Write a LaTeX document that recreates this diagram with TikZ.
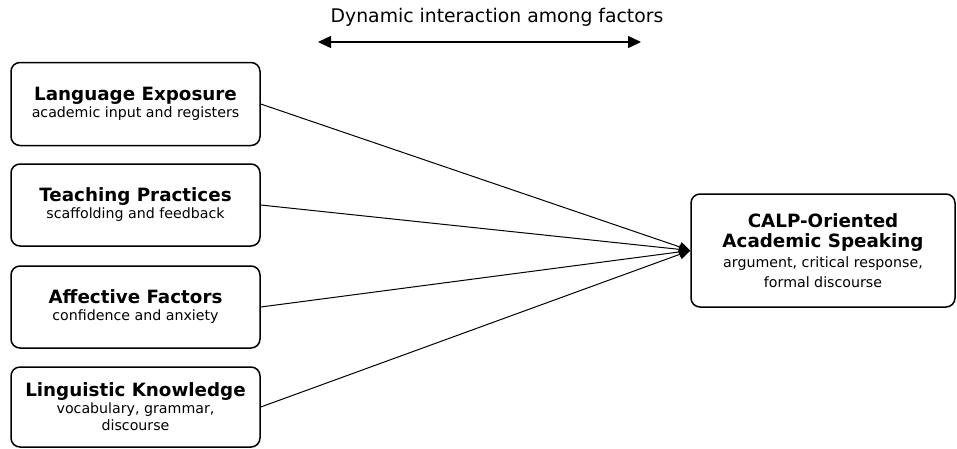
\documentclass[tikz,border=0pt]{standalone}
\usepackage{fontspec}
\setmainfont{DejaVu Sans}
\usetikzlibrary{arrows.meta}
\newcommand\myttl{\fontsize{18.3}{20.5}\selectfont\bfseries}
\newcommand\mysub{\fontsize{14.2}{17}\selectfont}
\newcommand\mysubw{\fontsize{14.2}{19.5}\selectfont}
\begin{document}
\begin{tikzpicture}[x=1pt,y=-1pt,
  factor/.style={draw, line width=1.5pt, rounded corners=9pt, minimum width=249pt, inner sep=0pt, align=center, font=\mysub},
  conn/.style={line width=1pt, -{Triangle[length=11pt,width=10pt]}}]
\useasboundingbox (0,0) rectangle (957,448);
\node[factor, minimum height=83pt] (le) at (135.5,104) {{\myttl Language Exposure}\\academic input and registers};
\node[factor, minimum height=82pt] (tp) at (135.5,205) {{\myttl Teaching Practices}\\scaffolding and feedback};
\node[factor, minimum height=82pt] (af) at (135.5,307) {{\myttl Affective Factors}\\confidence and anxiety};
\node[factor, minimum height=80pt] (lk) at (135.5,407) {{\myttl Linguistic Knowledge}\\vocabulary, grammar,\\discourse};
\node[factor, font=\mysubw, minimum width=264pt, minimum height=113pt] (calp) at (823,250.5) {{\myttl CALP-Oriented}\\{\myttl Academic Speaking}\\[1pt]argument, critical response,\\formal discourse};
\coordinate (tgt) at (calp.west);
\draw[conn] (le.east) -- (tgt);
\draw[conn] (tp.east) -- (tgt);
\draw[conn] (af.east) -- (tgt);
\draw[conn] (lk.east) -- (tgt);
\node[font=\fontsize{18.8}{21}\selectfont] (dyn) at (497,17) {Dynamic interaction among factors};
\coordinate (al) at (318,42);
\coordinate (ar) at (641,42);
\draw[line width=1.5pt, {Triangle[length=13pt,width=12pt]}-{Triangle[length=13pt,width=12pt]}] (al) -- (ar);
\end{tikzpicture}
\end{document}
